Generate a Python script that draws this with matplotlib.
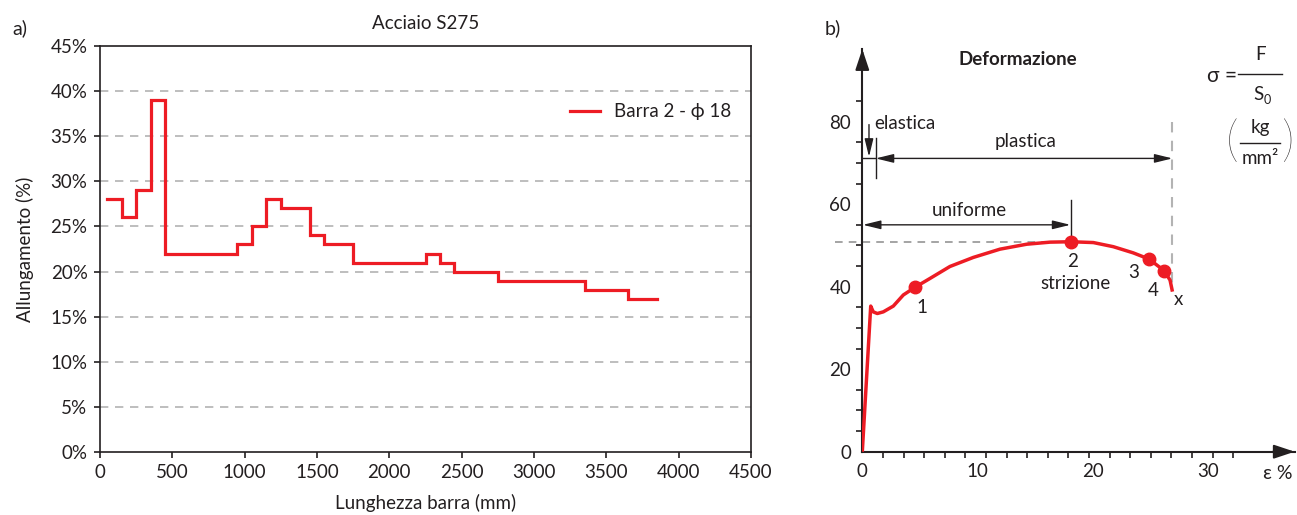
import numpy as np
import matplotlib
matplotlib.use("Agg")
import matplotlib.pyplot as plt

plt.rcParams['font.family'] = ['Lato', 'DejaVu Sans']

RED = '#ed1c24'
INK = '#231f20'
GREY = '#b3b3b3'

# a) allungamento lungo la barra
bar_pos = [50, 150, 250, 350, 450, 550, 650, 750, 850, 950, 1050, 1150, 1250,
           1350, 1450, 1550, 1650, 1750, 1850, 1950, 2050, 2150, 2250, 2350,
           2450, 2550, 2650, 2750, 2850, 2950, 3050, 3150, 3250, 3350, 3450,
           3550, 3650, 3750, 3850]
allung = [28, 26, 29, 39, 22, 22, 22, 22, 22, 23, 25, 28, 27,
          27, 24, 23, 23, 21, 21, 21, 21, 21, 22, 21,
          20, 20, 20, 19, 19, 19, 19, 19, 19, 18, 18,
          18, 17, 17, 17]
pct_ticks = [0, 5, 10, 15, 20, 25, 30, 35, 40, 45]
len_ticks = [0, 500, 1000, 1500, 2000, 2500, 3000, 3500, 4000, 4500]

# b) diagramma sforzo-deformazione
eps = [0, 0.73, 0.95, 1.3, 1.82, 2.69, 3.56, 4.57, 5.87, 7.6, 9.63, 11.94,
       14.26, 16.28, 18.1, 20.04, 21.77, 23.5, 24.87, 26.17, 26.69, 26.9]
sigma = [0, 35.3, 33.9, 33.5, 33.9, 35.3, 38.0, 39.85, 42.0, 44.9, 47.1, 49.1,
         50.3, 50.8, 50.9, 50.7, 49.7, 48.2, 46.7, 43.9, 41.6, 38.8]
pt_eps = [4.57, 18.1, 24.87, 26.17]
pt_sigma = [39.85, 50.9, 46.7, 43.9]
pt_labels = ['1', '2', '3', '4']
eps_labels = [0, 10, 20, 30]
sigma_labels = [0, 20, 40, 60, 80]

fig = plt.figure(figsize=(12.97, 5.15), dpi=100)

# ---------------- pannello a ----------------
ax = fig.add_axes([100 / 1297, 1 - 452 / 515, 651 / 1297, 406 / 515])
ax.step(bar_pos, allung, where='post', color=RED, lw=2.3,
        label='Barra 2 - \u03d5 18', solid_joinstyle='miter')
ax.set_xlim(0, 4500)
ax.set_ylim(0, 45)
ax.set_xticks(len_ticks)
ax.set_yticks(pct_ticks)
ax.set_yticklabels([f'{v}%' for v in pct_ticks])
for v in pct_ticks[1:-1]:
    ax.axhline(v, color=GREY, lw=1.2, ls=(0, (5, 4)), zorder=0)
for s in ax.spines.values():
    s.set_color(INK)
    s.set_linewidth(1.2)
ax.tick_params(direction='out', length=4, width=1.2, color=INK,
               labelsize=13.5, labelcolor=INK, pad=5)
ax.set_xlabel('Lunghezza barra (mm)', fontsize=13.5, color=INK, labelpad=9)
ax.set_ylabel('Allungamento (%)', fontsize=13.5, color=INK, labelpad=12)
ax.set_title('Acciaio S275', fontsize=13.5, color=INK, pad=12)
leg = ax.legend(loc='upper right', bbox_to_anchor=(0.995, 0.9), frameon=False,
                fontsize=13.5, handlelength=1.6, handletextpad=0.7)
for t in leg.get_texts():
    t.set_color(INK)

fig.text(20 / 1297, 1 - 28 / 515, 'a)', fontsize=14, color=INK,
         ha='center', va='center')
fig.text(833 / 1297, 1 - 28 / 515, 'b)', fontsize=14, color=INK,
         ha='center', va='center')

# ---------------- pannello b ----------------
xmax, ymax = 37.5, 97.6
bx = fig.add_axes([862.3 / 1297, 1 - 451.7 / 515,
                   xmax * 11.53 / 1297, ymax * 4.125 / 515])
bx.set_xlim(0, xmax)
bx.set_ylim(0, ymax)
for side in ['top', 'right']:
    bx.spines[side].set_visible(False)
for side in ['left', 'bottom']:
    bx.spines[side].set_color(INK)
    bx.spines[side].set_linewidth(1.5)
bx.set_xticks(eps_labels)
bx.set_yticks(sigma_labels)
bx.tick_params(length=0, labelsize=13.5, labelcolor=INK, pad=8)
bx.set_xticks(np.arange(0, 32.5, 1.787), minor=True)
bx.set_yticks(np.arange(0, 86, 5), minor=True)
bx.tick_params(which='minor', direction='out', length=4, width=1.2, color=INK)
bx.annotate('', xy=(1, 0), xycoords='axes fraction', xytext=(0.95, 0),
            arrowprops=dict(arrowstyle='-|>,head_length=0.9,head_width=0.3',
                            color=INK, lw=1.5, shrinkA=0, shrinkB=0,
                            mutation_scale=14))
bx.annotate('', xy=(0, 1), xycoords='axes fraction', xytext=(0, 0.95),
            arrowprops=dict(arrowstyle='-|>,head_length=0.9,head_width=0.3',
                            color=INK, lw=1.5, shrinkA=0, shrinkB=0,
                            mutation_scale=14))

bx.plot(eps, sigma, color=RED, lw=2.5, solid_capstyle='butt', zorder=3)
bx.plot(pt_eps, pt_sigma, 'o', color=RED, ms=9, zorder=4)

# linee tratteggiate di riferimento
bx.plot([-2.4, pt_eps[1]], [pt_sigma[1], pt_sigma[1]], color='#8c8c8c',
        lw=1.1, ls=(0, (5, 4)), clip_on=False, zorder=2)
bx.plot([26.9, 26.9], [80, 40.5], color=GREY, lw=1.5, ls=(0, (5, 4)), zorder=2)

# quote
arrow_kw = dict(arrowstyle='<|-|>,head_length=0.9,head_width=0.22',
                color=INK, lw=1.0, shrinkA=0, shrinkB=0, mutation_scale=12)
bx.annotate('', xy=(1.16, 71.1), xytext=(26.9, 71.1), arrowprops=arrow_kw)
bx.plot([0, 1.16], [71.1, 71.1], color=INK, lw=1.0)
bx.plot([1.16, 1.16], [66.3, 76], color=INK, lw=1.0)
bx.annotate('', xy=(0.58, 71.5), xytext=(0.58, 79.3),
            arrowprops=dict(arrowstyle='-|>,head_length=0.9,head_width=0.22',
                            color=INK, lw=1.0, shrinkA=0, shrinkB=0,
                            mutation_scale=12))
bx.annotate('', xy=(0.05, 55), xytext=(18.05, 55), arrowprops=arrow_kw)
bx.plot([18.1, 18.1], [50.9, 61], color=INK, lw=1.0)

txt = dict(color=INK, fontsize=13.5, ha='center', va='center')
bx.text(13.5, 95, 'Deformazione', fontweight='bold', **txt)
bx.text(1.0, 79.6, 'elastica', color=INK, fontsize=13.5, ha='left', va='center')
bx.text(14.2, 75.2, 'plastica', **txt)
bx.text(9.25, 58.4, 'uniforme', **txt)
bx.text(5.15, 35.0, pt_labels[0], **txt)
bx.text(18.2, 46.0, pt_labels[1], **txt)
bx.text(18.5, 40.8, 'strizione', **txt)
bx.text(23.5, 43.4, pt_labels[2], **txt)
bx.text(25.2, 39.2, pt_labels[3], **txt)
bx.text(27.4, 37.0, 'x', **txt)
bx.text(37.3, -5.3, '\u03b5 %', clip_on=False, color=INK, fontsize=14,
        ha='right', va='center')

# formula sigma = F / S0  (kg/mm2)
bx.text(31.2, 91.1, '\u03c3 =', clip_on=False, color=INK, fontsize=15,
        ha='center', va='center')
bx.plot([32.6, 36.4], [91.5, 91.5], color=INK, lw=1.0, clip_on=False)
bx.text(34.5, 96.2, 'F', clip_on=False, **txt)
bx.text(34.4, 86.6, 'S', clip_on=False, **txt)
bx.text(35.1, 85.2, '0', color=INK, fontsize=9, ha='center', va='center',
        clip_on=False)
bx.text(34.5, 78.6, 'kg', clip_on=False, **txt)
bx.plot([32.8, 36.2], [74.8, 74.8], color=INK, lw=1.0, clip_on=False)
bx.text(34.5, 71.0, 'mm\u00b2', clip_on=False, **txt)
bx.text(32.1, 75.0, '(', color=INK, fontsize=36, fontweight='light',
        ha='center', va='center', clip_on=False)
bx.text(36.9, 75.0, ')', color=INK, fontsize=36, fontweight='light',
        ha='center', va='center', clip_on=False)

fig.savefig('out.png', dpi=100)
